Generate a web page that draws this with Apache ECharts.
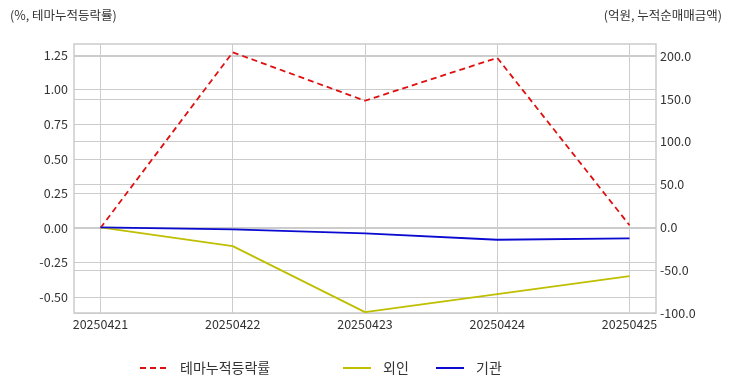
<!DOCTYPE html>
<html><head><meta charset="utf-8">
<script src="https://cdn.jsdelivr.net/npm/echarts@6/dist/echarts.min.js"></script>
<style>html,body{margin:0;padding:0;background:#fff}#c{width:732px;height:392px}</style>
</head><body><div id="c"></div>
<script>
const categories = ['20250421','20250422','20250423','20250424','20250425'];
const themeRate = [0.00, 1.27, 0.92, 1.23, 0.02];
const foreign = [0, -22, -99, -78, -57];
const institution = [0, -2.5, -7, -14.5, -13];
const leftTicks = [-0.5, -0.25, 0, 0.25, 0.5, 0.75, 1.0, 1.25];
const rightTicks = [-100, -50, 0, 50, 100, 150, 200];
const xTicks = [0, 1, 2, 3, 4];

const FONT = "'Noto Sans CJK KR', 'Noto Sans', sans-serif";
const GRID = '#cccccc';
const TXT = '#333333';
const chart = echarts.init(document.getElementById('c'));
const toPairs = arr => arr.map((v, i) => [i, v]);
const legendBase = {top: 361, padding: 0, itemWidth: 28, itemHeight: 12,
  itemStyle: {opacity: 0},
  textStyle: {fontFamily: FONT, fontSize: 14, color: TXT, padding: [0, 0, 0, 7]}, itemGap: 10};
chart.setOption({
  animation: false,
  textStyle: {fontFamily: FONT},
  title: [
    {text: '(%, 테마누적등락률)', left: 10, top: 9, padding: 0, textStyle: {fontFamily: FONT, fontSize: 12.5, fontWeight: 'normal', color: TXT}},
    {text: '(억원, 누적순매매금액)', right: 10, top: 9, padding: 0, textStyle: {fontFamily: FONT, fontSize: 12.5, fontWeight: 'normal', color: TXT}}
  ],
  grid: {left: 74, right: 76, top: 44, bottom: 79, show: true, borderColor: GRID, borderWidth: 1.5, backgroundColor: 'transparent'},
  legend: [
    Object.assign({}, legendBase, {left: 139, data: ['테마누적등락률']}),
    Object.assign({}, legendBase, {left: 342, data: ['외인']}),
    Object.assign({}, legendBase, {left: 435, data: ['기관']})
  ],
  xAxis: {
    type: 'value', min: -0.2, max: 4.2,
    axisLine: {show: false},
    axisTick: {show: false, customValues: xTicks},
    axisLabel: {customValues: xTicks, formatter: v => categories[Math.round(v)], fontSize: 12.5, color: TXT, margin: 5, fontFamily: FONT},
    splitLine: {show: true, lineStyle: {color: GRID, width: 1}}
  },
  yAxis: [
    {type: 'value', min: -0.614, max: 1.33, position: 'left',
     axisLine: {show: false}, axisTick: {show: false, customValues: leftTicks},
     axisLabel: {customValues: leftTicks, formatter: v => v.toFixed(2), fontSize: 12.5, color: TXT, margin: 6, fontFamily: FONT},
     splitLine: {show: true, lineStyle: {color: GRID, width: 1}}},
    {type: 'value', min: -100, max: 214, position: 'right',
     axisLine: {show: false}, axisTick: {show: false, customValues: rightTicks},
     axisLabel: {customValues: rightTicks, formatter: v => v.toFixed(1), fontSize: 12.5, color: TXT, margin: 4, fontFamily: FONT},
     splitLine: {show: true, lineStyle: {color: GRID, width: 1}}}
  ],
  series: [
    {name: '테마누적등락률', type: 'line', yAxisIndex: 0, data: toPairs(themeRate), symbol: 'none',
     lineStyle: {color: '#e01010', width: 1.8, type: [6, 4]}, itemStyle: {color: '#e01010'}},
    {name: '외인', type: 'line', yAxisIndex: 1, data: toPairs(foreign), symbol: 'none',
     lineStyle: {color: '#bfbf00', width: 1.8}, itemStyle: {color: '#bfbf00'}},
    {name: '기관', type: 'line', yAxisIndex: 1, data: toPairs(institution), symbol: 'none',
     lineStyle: {color: '#0a0ad0', width: 1.8}, itemStyle: {color: '#0a0ad0'}}
  ]
});
</script></body></html>
